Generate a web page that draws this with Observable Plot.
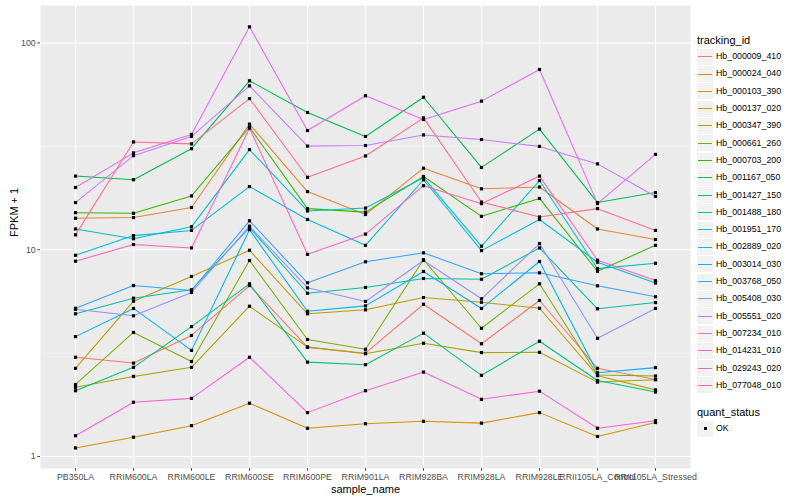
<!DOCTYPE html>
<html>
<head>
<meta charset="utf-8">
<script src="https://cdn.jsdelivr.net/npm/d3@7"></script>
<script src="https://cdn.jsdelivr.net/npm/@observablehq/plot@0.6"></script>
<style>
  body { margin: 0; background: white; font-family: "Liberation Sans", Arial, Helvetica, sans-serif; }
  #wrap { position: relative; width: 800px; height: 500px; }
  #legend { position: absolute; left: 696px; top: 0; width: 104px; }
  .ltitle { position: absolute; font-size: 11px; color: #000; white-space: nowrap; line-height: 1; }
  .lkey { position: absolute; left: 1px; width: 16px; height: 16px; background: #F2F2F2; }
  .lline { position: absolute; left: 1px; right: 1px; top: 7.5px; height: 1.1px; }
  .llab { position: absolute; left: 20px; font-size: 8.8px; color: #000; white-space: nowrap; line-height: 1; }
  .lsq { position: absolute; left: 6.5px; top: 6.5px; width: 3.2px; height: 3.2px; background: #000; }
</style>
</head>
<body>
<div id="wrap"><div id="chart"></div><div id="legend"></div></div>
<script>
const samples = ["PB350LA","RRIM600LA","RRIM600LE","RRIM600SE","RRIM600PE","RRIM901LA","RRIM928BA","RRIM928LA","RRIM928LE","RRII105LA_Control","RRII105LA_Stressed"];

const trackingIds = ["Hb_000009_410","Hb_000024_040","Hb_000103_390","Hb_000137_020","Hb_000347_390","Hb_000661_260","Hb_000703_200","Hb_001167_050","Hb_001427_150","Hb_001488_180","Hb_001951_170","Hb_002889_020","Hb_003014_030","Hb_003768_050","Hb_005408_030","Hb_005551_020","Hb_007234_010","Hb_014231_010","Hb_029243_020","Hb_077048_010"];

// FPKM + 1 per sample, in sample order
const hb_000009_410 = [3.02, 2.83, 3.85, 6.71, 3.38, 3.16, 5.45, 3.51, 5.68, 2.67, 2.36];
const hb_000024_040 = [14.2, 14.3, 16.0, 40.5, 19.1, 14.8, 24.8, 19.7, 20.1, 12.6, 11.2];
const hb_000103_390 = [1.10, 1.24, 1.41, 1.81, 1.37, 1.44, 1.48, 1.45, 1.63, 1.25, 1.46];
const hb_000137_020 = [2.67, 5.64, 7.42, 9.94, 4.90, 5.12, 5.87, 5.57, 5.21, 2.46, 2.10];
const hb_000347_390 = [2.16, 2.44, 2.70, 5.33, 3.38, 3.14, 3.53, 3.18, 3.19, 2.29, 2.35];
const hb_000661_260 = [2.23, 3.98, 2.88, 8.87, 3.68, 3.30, 8.95, 4.17, 6.84, 2.48, 2.45];
const hb_000703_200 = [15.1, 15.0, 18.2, 39.1, 15.8, 15.2, 22.6, 14.5, 17.7, 7.87, 10.5];
const hb_001167_050 = [22.7, 21.8, 30.8, 65.6, 46.1, 35.3, 54.6, 25.0, 38.3, 16.9, 18.9];
const hb_001427_150 = [2.08, 2.70, 4.25, 6.84, 2.86, 2.78, 3.95, 2.47, 3.61, 2.33, 2.05];
const hb_001488_180 = [4.90, 5.83, 6.40, 12.8, 6.16, 6.57, 7.26, 7.20, 10.2, 5.18, 5.55];
const hb_001951_170 = [12.6, 11.3, 12.9, 30.5, 15.4, 15.9, 22.3, 10.4, 21.6, 8.10, 8.60];
const hb_002889_020 = [9.40, 11.7, 12.4, 20.2, 14.0, 10.5, 21.8, 9.90, 14.0, 8.70, 6.90];
const hb_003014_030 = [3.80, 5.20, 3.26, 12.5, 5.04, 5.35, 7.85, 5.20, 8.77, 2.54, 2.69];
const hb_003768_050 = [5.21, 6.71, 6.35, 13.8, 6.92, 8.74, 9.66, 7.65, 7.73, 6.69, 5.92];
const hb_005408_030 = [5.15, 4.79, 6.21, 13.0, 6.54, 5.62, 8.87, 5.79, 10.7, 3.73, 5.20];
const hb_005551_020 = [16.9, 28.5, 35.3, 62.0, 31.7, 31.9, 35.9, 34.1, 31.6, 26.0, 18.1];
const hb_007234_010 = [20.0, 29.4, 36.1, 119.6, 37.7, 55.5, 42.6, 52.3, 74.4, 16.7, 28.9];
const hb_014231_010 = [1.26, 1.83, 1.91, 3.02, 1.63, 2.08, 2.56, 1.89, 2.07, 1.37, 1.49];
const hb_029243_020 = [8.80, 10.6, 10.2, 38.7, 9.50, 11.9, 20.4, 16.7, 22.7, 8.90, 7.10];
const hb_077048_010 = [11.8, 33.2, 32.5, 53.8, 22.4, 28.4, 43.4, 17.0, 14.4, 15.8, 12.4];

const seriesValues = [hb_000009_410, hb_000024_040, hb_000103_390, hb_000137_020, hb_000347_390, hb_000661_260, hb_000703_200, hb_001167_050, hb_001427_150, hb_001488_180, hb_001951_170, hb_002889_020, hb_003014_030, hb_003768_050, hb_005408_030, hb_005551_020, hb_007234_010, hb_014231_010, hb_029243_020, hb_077048_010];

const majorBreaks = [1, 10, 100];
const minorBreaks = [Math.sqrt(10), Math.sqrt(1000)];
const quantStatus = ["OK"];

const palette = ["#F8766D","#EA8331","#D89000","#C09B00","#A3A500","#7CAE00","#39B600","#00BB4E","#00BF7D","#00C1A3","#00BFC4","#00BAE0","#00B0F6","#35A2FF","#9590FF","#C77CFF","#E76BF3","#FA62DB","#FF62BC","#FF6C91"];

const rows = [];
trackingIds.forEach((id, i) => {
  seriesValues[i].forEach((v, j) => rows.push({tracking_id: id, sample_name: samples[j], value: v, quant_status: "OK"}));
});

const chart = Plot.plot({
  width: 800,
  height: 500,
  marginLeft: 40,
  marginRight: 110,
  marginTop: 5,
  marginBottom: 32,
  style: {fontFamily: '"Liberation Sans", Arial, Helvetica, sans-serif', background: "white", overflow: "visible"},
  x: {type: "point", domain: samples, padding: 0.6, label: null},
  y: {type: "log", domain: [0.875, 151.7], label: null},
  color: {domain: trackingIds, range: palette},
  marks: [
    Plot.frame({fill: "#EBEBEB", stroke: null}),
    Plot.ruleY(minorBreaks, {stroke: "white", strokeWidth: 0.55}),
    Plot.ruleY(majorBreaks, {stroke: "white", strokeWidth: 1.1}),
    Plot.gridX({stroke: "white", strokeOpacity: 1, strokeWidth: 1.1}),
    Plot.axisX({tickSize: 2.75, tickPadding: 2, fontSize: 8.8, color: "#4D4D4D", label: null}),
    Plot.axisY({ticks: majorBreaks, tickFormat: d => String(d), tickSize: 2.75, tickPadding: 2, fontSize: 8.8, color: "#4D4D4D", label: null}),
    Plot.line(rows, {x: "sample_name", y: "value", z: "tracking_id", stroke: "tracking_id", strokeWidth: 1.05}),
    Plot.dot(rows, {x: "sample_name", y: "value", symbol: "square", fill: "black", r: 1.8}),
    Plot.text(["sample_name"], {frameAnchor: "bottom", dy: 24, fontSize: 11, fill: "black"}),
    Plot.text(["FPKM + 1"], {frameAnchor: "left", rotate: -90, dx: -26, fontSize: 11, fill: "black"})
  ]
});
document.getElementById("chart").appendChild(chart);

// legend
const lg = document.getElementById("legend");
let html = `<div class="ltitle" style="top:35px;left:1px">tracking_id</div>`;
trackingIds.forEach((id, i) => {
  const cy = 56.7 + i * 17.3;
  html += `<div class="lkey" style="top:${cy - 8}px"><div class="lline" style="background:${palette[i]}"></div></div>`;
  html += `<div class="llab" style="top:${cy - 4.6}px">${id}</div>`;
});
html += `<div class="ltitle" style="top:406.5px;left:1px">quant_status</div>`;
quantStatus.forEach((s, i) => {
  const cy = 428.5 + i * 17.3;
  html += `<div class="lkey" style="top:${cy - 8}px"><div class="lsq"></div></div>`;
  html += `<div class="llab" style="top:${cy - 4.6}px">${s}</div>`;
});
lg.innerHTML = html;
</script>
</body>
</html>
